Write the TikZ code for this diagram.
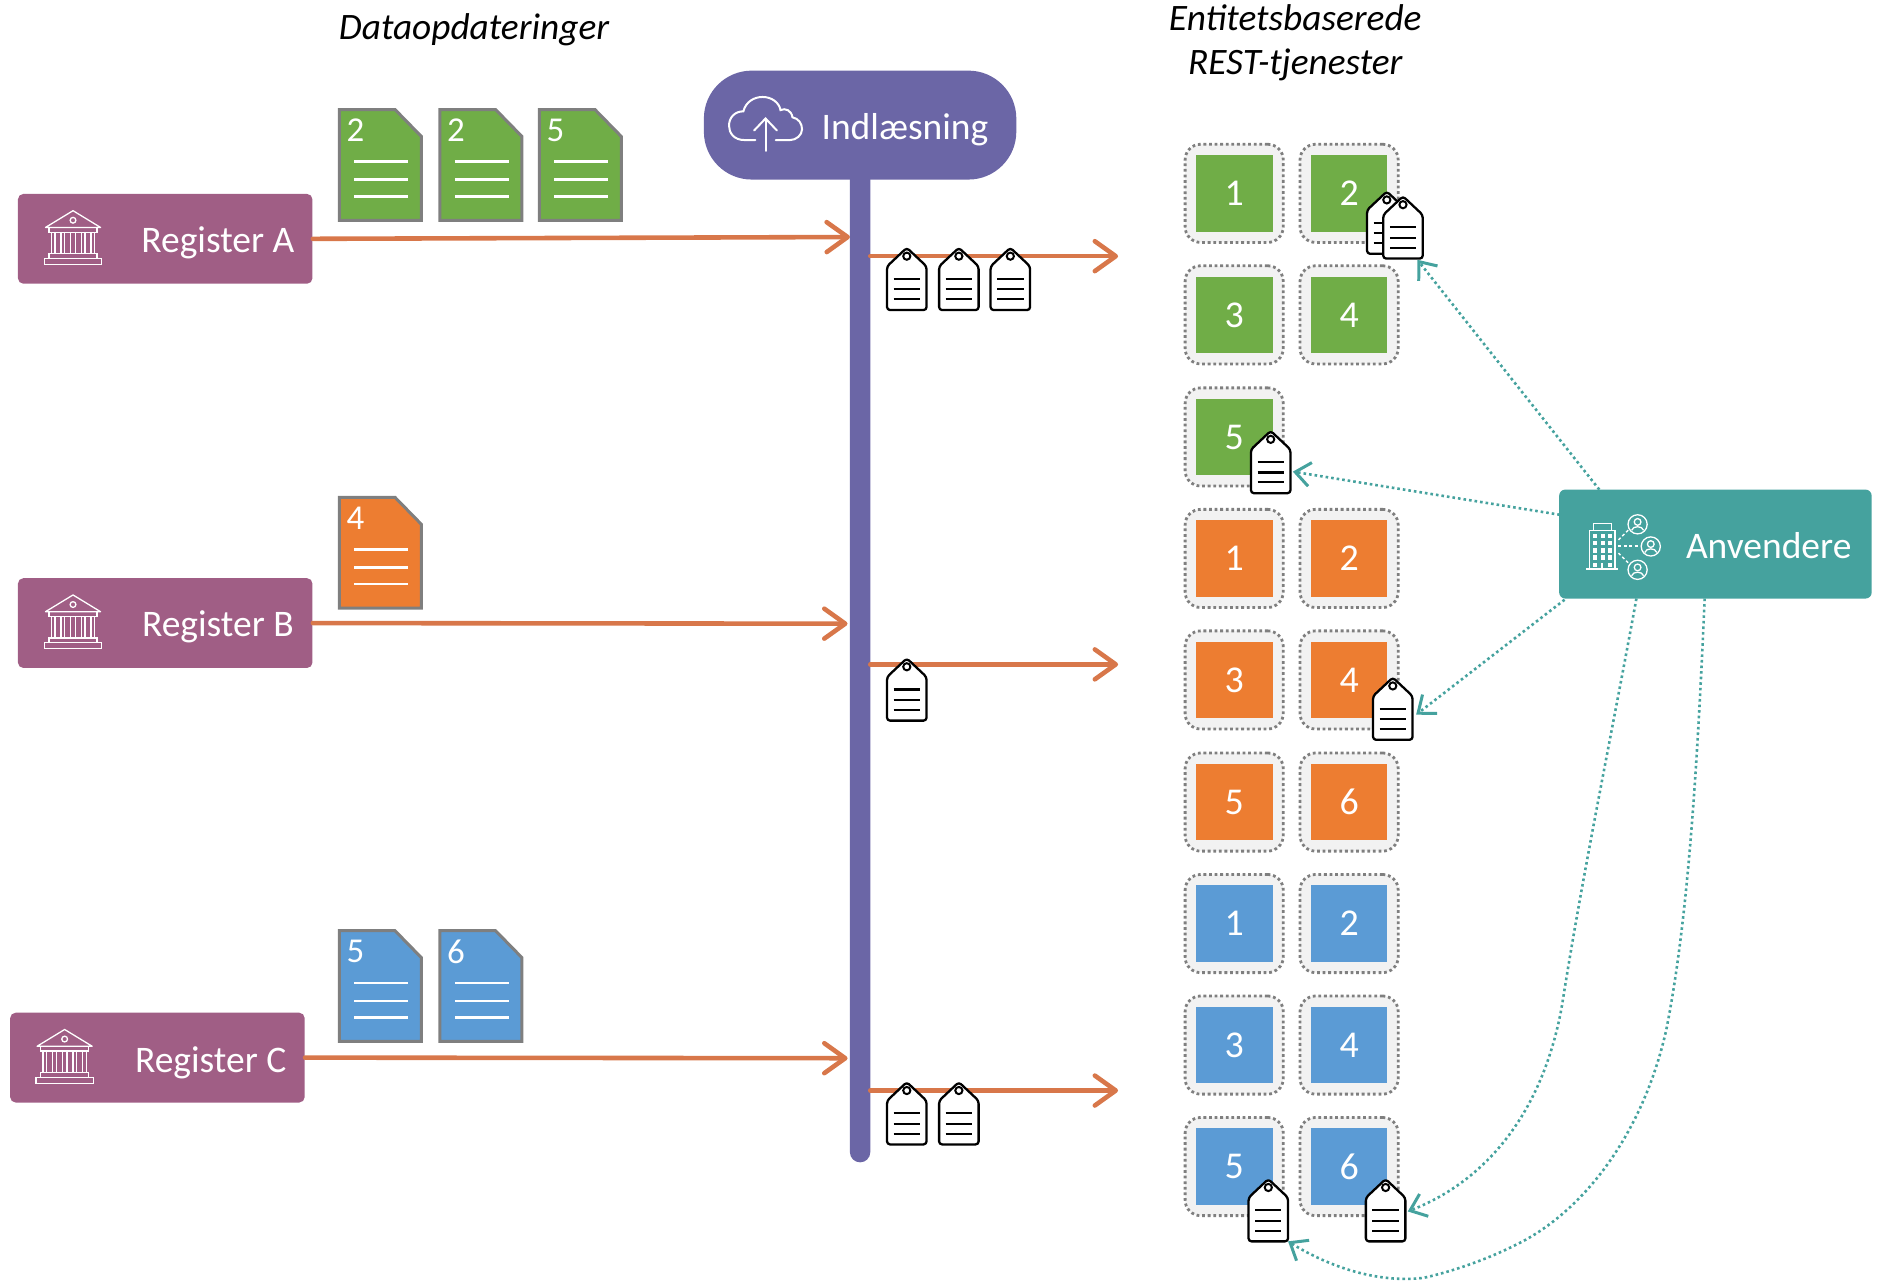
\documentclass[tikz,border=0pt]{standalone}
\usepackage{fontspec}
\setmainfont{Carlito}
\usetikzlibrary{arrows.meta}
\definecolor{regc}{HTML}{A05E85}
\definecolor{ingc}{HTML}{6B66A6}
\definecolor{usec}{HTML}{45A29E}
\definecolor{flowc}{HTML}{D8774A}
\definecolor{gr}{HTML}{70AD47}
\definecolor{or}{HTML}{ED7D31}
\definecolor{bl}{HTML}{5B9BD5}
\definecolor{dotc}{HTML}{7F7F7F}
\def\u{0.6pt}
\tikzset{
  regbox/.style={fill=regc,rounded corners=4.5*\u,minimum width=246*\u,minimum height=75*\u,inner sep=0},
  whitetxt/.style={text=white,font=\fontsize{18.8}{22}\selectfont,inner sep=0},
  headtxt/.style={font=\fontsize{18.7}{22.2}\selectfont\itshape,align=center,inner sep=0},
  svcouter/.style={fill=black!5,draw=dotc,line width=1.4pt,dash pattern=on 1.4pt off 1.4pt,rounded corners=13*\u,minimum width=82*\u,minimum height=82*\u,inner sep=0},
  svcinner/.style={minimum width=64*\u,minimum height=64*\u,inner sep=0,text=white,font=\fontsize{19}{20}\selectfont},
  flow/.style={draw=flowc,line width=2.3pt,line cap=round,-{Straight Barb[length=10.5pt,width=15pt,line width=2.3pt,round]}},
  use/.style={draw=usec,line width=1.3pt,dash pattern=on 1.3pt off 1.5pt,-{Straight Barb[length=7.5pt,width=12pt,line width=1.5pt]}},
  icon/.style={draw=white,line width=0.65pt,fill=none},
  pics/tagicon/.style={code={
    \draw[fill=white,draw=black,line width=1.15pt,line join=round,rounded corners=2.5*\u]
      (16.5,52)--(33,52)--(33,15.5)--(16.5,0)--(0,15.5)--(0,52)--cycle;
    \draw[black,line width=1pt] (16.5,7) circle[radius=3*\u];
    \foreach \yy in {26,34.7,43}{\draw[black,line width=1.05pt] (5.5,\yy)--(27.5,\yy);}
  }},
  pics/docicon/.style n args={2}{code={
    \draw[fill=#1,draw=dotc,line width=1.5pt,miter limit=2] (0.5,0.5)--(47,0.5)--(69,23)--(69,93)--(0.5,93)--cycle;
    \foreach \yy in {44,59,73}{\draw[white,line width=1.25pt] (13,\yy)--(58,\yy);}
    \node[whitetxt,font=\fontsize{17.5}{18}\selectfont] (-num) at (14,18) {#2};
  }},
  pics/bankicon/.style={code={
    \draw[icon,line join=round] (-23,-8)--(0,-22)--(23,-8)--cycle;
    \draw[icon] (0,-14) circle[radius=2.4*\u];
    \draw[icon] (-20,-8) rectangle (20,-4);
    \foreach \xx in {-18,-15,-10,-7,-2,2,7,10,15,18}{\draw[icon] (\xx,-4)--(\xx,14);}
    \draw[icon] (-20,14) rectangle (20,18);
    \draw[icon] (-24,18) rectangle (24,23);
  }},
  pics/personicon/.style={code={
    \draw[icon] (0,0) circle[radius=8*\u];
    \draw[icon] (0,-2) circle[radius=2.8*\u];
    \draw[icon] (-5,5) .. controls (-4,1) and (4,1) .. (5,5);
  }}
}
\begin{document}
\begin{tikzpicture}[x=\u,y=-\u]
\useasboundingbox (0,0) rectangle (1568,1069.3);

% headings
\node[headtxt] (hdata) at (396,24.5) {Dataopdateringer};
\node[headtxt] (hrest) at (1082,35.5) {Entitetsbaserede\\REST-tjenester};

% ingestion
\fill[ingc,rounded corners=8.5*\u] (710,120) rectangle (727,971);
\node[fill=ingc,rounded corners=40*\u,minimum width=261*\u,minimum height=91*\u,inner sep=0] (ing) at (718.5,104.5) {};
\node[whitetxt] (ingt) at (756,108) {Indlæsning};
\coordinate (barAin) at (710,198);
\coordinate (barBin) at (708,521);
\coordinate (barCin) at (708,884);
\coordinate (barAout) at (727,214);
\coordinate (barBout) at (727,555);
\coordinate (barCout) at (727,911);
\coordinate (svcA) at (934,214);
\coordinate (svcB) at (934,555);
\coordinate (svcC) at (934,911);
% cloud
\draw[icon,line width=1pt,line cap=round] (631,117) -- (622,117)
  .. controls (613,117) and (609,111) .. (609,105)
  .. controls (609,98) and (614,93) .. (621,93)
  .. controls (623,85) and (630,81) .. (637,81)
  .. controls (645,81) and (651,86) .. (652,92)
  .. controls (656,90) and (661,92) .. (662,98)
  .. controls (667,99) and (670,103) .. (670,108)
  .. controls (670,113) and (665,117) .. (660,117) -- (648,117);
\draw[icon,line width=1pt,line cap=round] (639.5,126)--(639.5,99);
\draw[icon,line width=1pt,line cap=round] (630,109)--(639.5,99)--(649,109);

% registers
\node[regbox] (regA) at (138,199.5) {};
\node[regbox] (regB) at (138,520.5) {};
\node[regbox] (regC) at (131.5,883.5) {};
\node[whitetxt] (regAt) at (182,203) {Register A};
\node[whitetxt] (regBt) at (182,524) {Register B};
\node[whitetxt] (regCt) at (176,887.5) {Register C};
\pic (bankA) at (61,198) {bankicon};
\pic (bankB) at (61,519) {bankicon};
\pic (bankC) at (54,882) {bankicon};

% documents
\pic (docA1) at (283,91) {docicon={gr}{2}};
\pic (docA2) at (367,91) {docicon={gr}{2}};
\pic (docA3) at (450,91) {docicon={gr}{5}};
\pic (docB1) at (283,415) {docicon={or}{4}};
\pic (docC1) at (283,777) {docicon={bl}{5}};
\pic (docC2) at (367,777) {docicon={bl}{6}};

% flows
\draw[flow] (regA.east) -- (barAin);
\draw[flow] (regB.east) -- (barBin);
\draw[flow] (regC.east) -- (barCin);
\draw[flow] (barAout) -- (svcA);
\draw[flow] (barBout) -- (svcB);
\draw[flow] (barCout) -- (svcC);

% services
\foreach \nm/\xx/\yy/\col/\num in {
  gA/1031/161.5/gr/1, gB/1127/161.5/gr/2,
  gC/1031/263/gr/3, gD/1127/263/gr/4,
  gE/1031/365/gr/5,
  oA/1031/466.5/or/1, oB/1127/466.5/or/2,
  oC/1031/568/or/3, oD/1127/568/or/4,
  oE/1031/670/or/5, oF/1127/670/or/6,
  bA/1031/771.5/bl/1, bB/1127/771.5/bl/2,
  bC/1031/873/bl/3, bD/1127/873/bl/4,
  bE/1031/974.5/bl/5, bF/1127/974.5/bl/6}{
  \node[svcouter] (\nm-o) at (\xx,\yy) {};
  \node[svcinner,fill=\col,text depth=-0.5pt] (\nm-i) at (\xx,\yy) {\num};
}

% tags
\pic (tA1) at (741,207) {tagicon};
\pic (tA2) at (784.5,207) {tagicon};
\pic (tA3) at (827.5,207) {tagicon};
\pic (tB1) at (741,550) {tagicon};
\pic (tC1) at (741,904) {tagicon};
\pic (tC2) at (784.5,904) {tagicon};
\pic (tS1) at (1142,160) {tagicon};
\pic (tS2) at (1155.5,164) {tagicon};
\pic (tS3) at (1045,360) {tagicon};
\pic (tS4) at (1147,566) {tagicon};
\pic (tS5) at (1043,985) {tagicon};
\pic (tS6) at (1141,985) {tagicon};
\coordinate (endG2) at (1184,217);
\coordinate (endG5) at (1080,394);
\coordinate (endO4) at (1183,597);
\coordinate (endB6) at (1176,1012);
\coordinate (endB5) at (1076,1037);

% users
\node[fill=usec,rounded corners=5*\u,minimum width=261*\u,minimum height=91*\u,inner sep=0] (use) at (1433,454.5) {};
\node[whitetxt] (uset) at (1477.5,456) {Anvendere};
\coordinate (u1) at (1336,409);
\coordinate (u2) at (1303,430);
\coordinate (u3) at (1307,501);
\coordinate (u4) at (1367,500);
\coordinate (u5) at (1424,500);
\draw[use] (u1) -- (endG2);
\draw[use] (u2) -- (endG5);
\draw[use] (u3) -- (endO4);
\draw[use] (u4) .. controls (1347,610) and (1322,730) .. (1305,839) .. controls (1290,925) and (1245,985) .. (endB6);
\draw[use] (u5) .. controls (1418,640) and (1410,770) .. (1392,860) .. controls (1372,950) and (1320,1015) .. (1264,1041) .. controls (1240,1053) and (1210,1063) .. (1189,1067.5) .. controls (1150,1072) and (1110,1058) .. (endB5);

% building and people
\draw[icon] (1328,475)--(1328,443)--(1349,443)--(1349,475);
\draw[icon] (1331,443)--(1331,437.5)--(1346,437.5)--(1346,443);
\draw[icon,line width=0.9pt] (1325,475.5)--(1352,475.5);
\foreach \wy in {446,452,458,464}{
  \foreach \wx in {1331,1337,1343}{\fill[white] (\wx,\wy) rectangle ++(3.4,3.6);}
}
\fill[white] (1337,470) rectangle ++(2.4,5);
\fill[white] (1331,470) rectangle ++(3.4,3.6);
\fill[white] (1343,470) rectangle ++(3.4,3.6);
\pic (p1) at (1368,438) {personicon};
\pic (p2) at (1379,456.5) {personicon};
\pic (p3) at (1368,476) {personicon};
\draw[icon,dash pattern=on 1.5pt off 1.2pt] (1352,456)--(1370,456);
\draw[icon,dash pattern=on 1.5pt off 1.2pt] (1352,451)--(1361,442);
\draw[icon,dash pattern=on 1.5pt off 1.2pt] (1352,462)--(1361,471);
\end{tikzpicture}
\end{document}
